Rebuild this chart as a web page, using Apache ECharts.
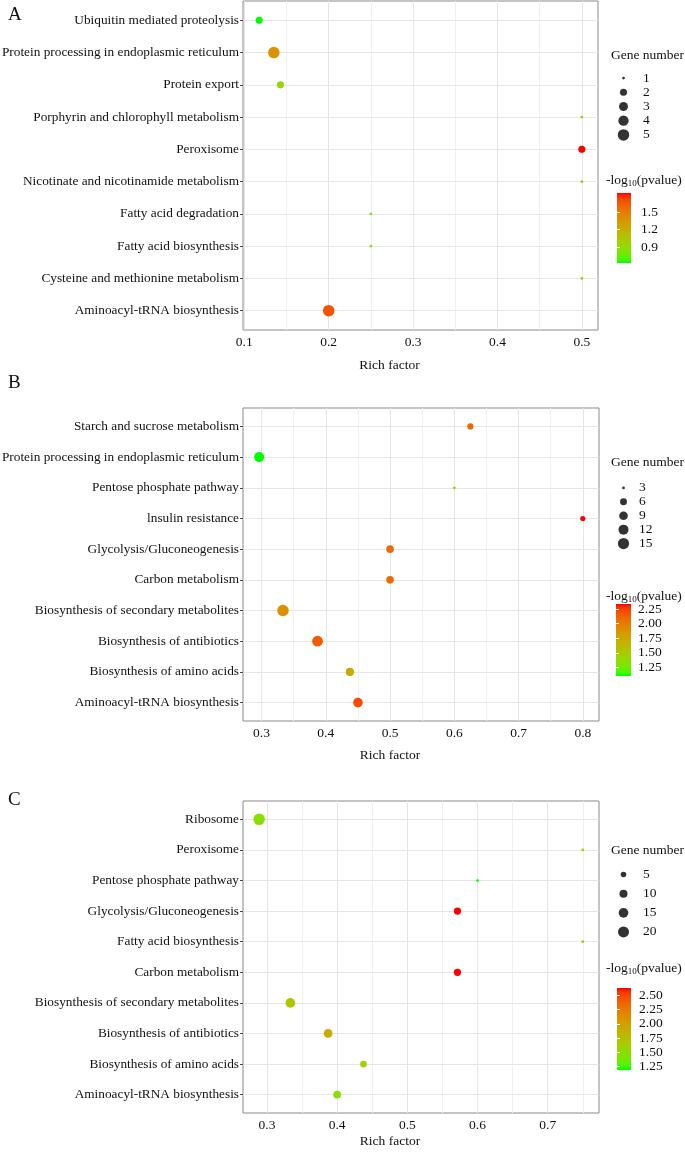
<!DOCTYPE html>
<html><head><meta charset="utf-8">
<script src="https://cdn.jsdelivr.net/npm/echarts@6/dist/echarts.min.js"></script>
<style>html,body{margin:0;padding:0;background:#fff}#c{width:685px;height:1153px}</style>
</head><body><div id="c"></div>
<script>
// ---------- DATA ----------
const catsA = ['Ubiquitin mediated proteolysis','Protein processing in endoplasmic reticulum','Protein export','Porphyrin and chlorophyll metabolism','Peroxisome','Nicotinate and nicotinamide metabolism','Fatty acid degradation','Fatty acid biosynthesis','Cysteine and methionine metabolism','Aminoacyl-tRNA biosynthesis'];
const richA = [0.1176, 0.135, 0.1429, 0.5, 0.5, 0.5, 0.25, 0.25, 0.5, 0.2];
const geneA = [2, 5, 2, 1, 2, 1, 1, 1, 1, 5];
const pvalA = [0.626, 1.38, 0.93, 1.01, 1.826, 1.01, 0.87, 0.87, 1.01, 1.68];
const xTicksA = [0.1, 0.2, 0.3, 0.4, 0.5];
const sizeLegA = [1, 2, 3, 4, 5];
const cbarTicksA = [0.9, 1.2, 1.5];

const catsB = ['Starch and sucrose metabolism','Protein processing in endoplasmic reticulum','Pentose phosphate pathway','lnsulin resistance','Glycolysis/Gluconeogenesis','Carbon metabolism','Biosynthesis of secondary metabolites','Biosynthesis of antibiotics','Biosynthesis of amino acids','Aminoacyl-tRNA biosynthesis'];
const richB = [0.625, 0.2963, 0.6, 0.8, 0.5, 0.5, 0.3333, 0.3871, 0.4375, 0.45];
const geneB = [5, 12, 3, 4, 7, 7, 16, 14, 8, 11];
const pvalB = [2.09, 1.10, 1.47, 2.34, 2.09, 2.09, 1.88, 2.15, 1.72, 2.22];
const xTicksB = [0.3, 0.4, 0.5, 0.6, 0.7, 0.8];
const sizeLegB = [3, 6, 9, 12, 15];
const cbarTicksB = [1.25, 1.5, 1.75, 2.0, 2.25];

const catsC = ['Ribosome','Peroxisome','Pentose phosphate pathway','Glycolysis/Gluconeogenesis','Fatty acid biosynthesis','Carbon metabolism','Biosynthesis of secondary metabolites','Biosynthesis of antibiotics','Biosynthesis of amino acids','Aminoacyl-tRNA biosynthesis'];
const richC = [0.2889, 0.75, 0.6, 0.5714, 0.75, 0.5714, 0.3333, 0.3871, 0.4375, 0.4];
const geneC = [22, 3, 3, 8, 3, 8, 15, 12, 7, 9];
const pvalC = [1.48, 1.62, 1.19, 2.63, 1.62, 2.63, 1.69, 1.91, 1.58, 1.48];
const xTicksC = [0.3, 0.4, 0.5, 0.6, 0.7];
const sizeLegC = [5, 10, 15, 20];
const cbarTicksC = [1.25, 1.5, 1.75, 2.0, 2.25, 2.5];

// ---------- COLOUR (Lab interpolation green -> red) ----------
function toLin(c){c/=255;return c<=0.04045?c/12.92:Math.pow((c+0.055)/1.055,2.4);}
function fromLin(c){c=c<=0.0031308?12.92*c:1.055*Math.pow(Math.max(c,0),1/2.4)-0.055;return Math.max(0,Math.min(255,Math.round(c*255)));}
function rgb2lab(rgb){
  const r=toLin(rgb[0]),g=toLin(rgb[1]),b=toLin(rgb[2]);
  const X=(0.4124564*r+0.3575761*g+0.1804375*b)/0.95047,Y=0.2126729*r+0.7151522*g+0.0721750*b,Z=(0.0193339*r+0.1191920*g+0.9503041*b)/1.08883;
  const f=t=>t>0.008856?Math.cbrt(t):(7.787*t+16/116);
  const fx=f(X),fy=f(Y),fz=f(Z);
  return [116*fy-16,500*(fx-fy),200*(fy-fz)];
}
function lab2rgb(lab){
  const fy=(lab[0]+16)/116,fx=fy+lab[1]/500,fz=fy-lab[2]/200;
  const fi=t=>t*t*t>0.008856?t*t*t:(t-16/116)/7.787;
  const X=fi(fx)*0.95047,Y=fi(fy),Z=fi(fz)*1.08883;
  const r=3.2404542*X-1.5371385*Y-0.4985314*Z,g=-0.9692660*X+1.8760108*Y+0.0415560*Z,b=0.0556434*X-0.2040259*Y+1.0572252*Z;
  return 'rgb('+fromLin(r)+','+fromLin(g)+','+fromLin(b)+')';
}
const LOW=rgb2lab([0,255,0]),HIGH=rgb2lab([255,0,0]);
function gradColor(t){t=Math.max(0,Math.min(1,t));return lab2rgb([0,1,2].map(i=>LOW[i]+(HIGH[i]-LOW[i])*t));}

// ---------- BUILD ----------
const FONT='"Liberation Serif", "Times New Roman", serif';
const mctx=document.createElement('canvas').getContext('2d');
function textW(t,px){mctx.font=px+'px "Liberation Serif"';return mctx.measureText(t).width;}
const option={animation:false,backgroundColor:'#fff',grid:[],xAxis:[],yAxis:[],series:[],graphic:[]};

function addPanel(p){
  const n=p.cats.length;
  const xmin=Math.min(...p.rich),xmax=Math.max(...p.rich),pad=0.05*(xmax-xmin);
  const gmin=Math.min(...p.gene),gmax=Math.max(...p.gene);
  const cmin=Math.min(...p.pval),cmax=Math.max(...p.pval);
  const sizeFn=v=>{const f=Math.max(0,(v-gmin)/(gmax-gmin));return 1.75*(1+5*Math.sqrt(f))+1.0;};

  // main grid
  const gi=option.grid.length;
  option.grid.push({left:p.box[0],top:p.box[1],width:p.box[2],height:p.box[3],outerBoundsMode:'none',containLabel:false,
    show:true,borderColor:'#8a8a8a',borderWidth:1,backgroundColor:'#fff'});
  const xi=option.xAxis.length,yi=option.yAxis.length;
  option.xAxis.push({gridIndex:gi,type:'value',min:xmin-pad,max:xmax+pad,
    axisLine:{show:false},splitLine:{show:false},
    axisTick:{show:true,customValues:p.ticks,length:3,lineStyle:{color:'#444'}},
    axisLabel:{customValues:p.ticks,formatter:v=>String(+v.toFixed(2)),color:'#111',fontFamily:FONT,fontSize:13.5,margin:5},
    name:'Rich factor',nameLocation:'middle',nameGap:p.nameGap,nameTextStyle:{color:'#111',fontFamily:FONT,fontSize:13.5,padding:p.namePad}});
  const idx=p.cats.map((_,i)=>i);
  option.yAxis.push({gridIndex:gi,type:'value',min:-0.6,max:n-1+0.6,inverse:true,
    axisLine:{show:false},splitLine:{show:false},
    axisTick:{show:true,customValues:idx,length:3,lineStyle:{color:'#444'}},
    axisLabel:{customValues:idx,formatter:v=>p.cats[Math.round(v)]||'',color:'#111',fontFamily:FONT,fontSize:13.3,margin:4}});
  // grid lines
  const step=p.ticks[1]-p.ticks[0];
  const minors=[];
  for(let t=p.ticks[0]-step/2;t<=xmax+pad;t+=step){if(t>=xmin-pad)minors.push(+t.toFixed(4));}
  const ml=[];
  minors.forEach(v=>ml.push({xAxis:v,lineStyle:{color:'#f0f0f0',width:1,type:'solid'}}));
  p.ticks.forEach(v=>ml.push({xAxis:v,lineStyle:{color:'#e6e6e6',width:1,type:'solid'}}));
  idx.forEach(v=>ml.push({yAxis:v,lineStyle:{color:'#e6e6e6',width:1,type:'solid'}}));
  option.series.push({type:'scatter',xAxisIndex:xi,yAxisIndex:yi,data:[],z:1,silent:true,
    markLine:{silent:true,symbol:['none','none'],label:{show:false},emphasis:{disabled:true},data:ml,animation:false}});
  // points
  option.series.push({type:'scatter',xAxisIndex:xi,yAxisIndex:yi,z:5,
    data:p.rich.map((r,i)=>({value:[r,i,p.gene[i],p.pval[i]],symbolSize:sizeFn(p.gene[i]),itemStyle:{color:gradColor((p.pval[i]-cmin)/(cmax-cmin)),opacity:1}}))});

  // size legend
  const lg=option.grid.length;
  option.grid.push({left:p.leg[0],top:p.leg[1],width:p.leg[2],height:p.leg[3],outerBoundsMode:'none',containLabel:false});
  const lxi=option.xAxis.length,lyi=option.yAxis.length;
  option.xAxis.push({gridIndex:lg,type:'value',min:-1,max:1,show:false});
  option.yAxis.push({gridIndex:lg,type:'category',inverse:true,position:'right',data:p.sizeLeg.map(String),
    axisLine:{show:false},axisTick:{show:false},splitLine:{show:false},
    axisLabel:{interval:0,color:'#111',fontFamily:FONT,fontSize:13.5,margin:p.legMargin,align:'left'}});
  option.series.push({type:'scatter',xAxisIndex:lxi,yAxisIndex:lyi,silent:true,
    data:p.sizeLeg.map((v,i)=>({value:[0,i],symbolSize:sizeFn(v),itemStyle:{color:'#000'}}))});

  // colour bar
  const cg=option.grid.length;
  const stops=[];for(let k=0;k<=20;k++){stops.push({offset:k/20,color:gradColor(1-k/20)});}
  option.grid.push({left:p.cbar[0],top:p.cbar[1],width:p.cbar[2],height:p.cbar[3],outerBoundsMode:'none',containLabel:false,
    show:true,borderWidth:0,backgroundColor:{type:'linear',x:0,y:0,x2:0,y2:1,colorStops:stops}});
  const cxi=option.xAxis.length;
  option.xAxis.push({gridIndex:cg,type:'value',min:0,max:1,show:false});
  const cyi=option.yAxis.length;
  option.yAxis.push({gridIndex:cg,type:'value',min:cmin,max:cmax,position:'right',
    axisLine:{show:false},splitLine:{show:false},
    axisTick:{show:true,inside:true,customValues:p.cbarTicks,length:3,lineStyle:{color:'#fff',width:1}},
    axisLabel:{customValues:p.cbarTicks,formatter:v=>v.toFixed(p.cbarDigits),color:'#111',fontFamily:FONT,fontSize:13.5,margin:p.cbarMargin}});
  option.yAxis.push({gridIndex:cg,type:'value',min:cmin,max:cmax,position:'left',
    axisLine:{show:false},splitLine:{show:false},
    axisTick:{show:true,inside:true,customValues:p.cbarTicks,length:3,lineStyle:{color:'#fff',width:1}},
    axisLabel:{show:false,customValues:p.cbarTicks}});
  option.series.push({type:'scatter',xAxisIndex:cxi,yAxisIndex:cyi,data:[],silent:true});

  // texts
  option.graphic.push({type:'text',x:8,y:p.letterY,style:{text:p.letter,font:'19px '+FONT,fill:'#111',verticalAlign:'middle'}});
  option.graphic.push({type:'text',x:611,y:p.geneY,style:{text:'Gene number',font:'13.5px '+FONT,fill:'#111',verticalAlign:'middle'}});
  const x0=606, w1=textW('-log',13.5), w2=textW('10',9);
  option.graphic.push({type:'text',x:x0,y:p.logY,style:{text:'-log',font:'13.5px '+FONT,fill:'#111',verticalAlign:'middle'}});
  option.graphic.push({type:'text',x:x0+w1,y:p.logY+4,style:{text:'10',font:'9px '+FONT,fill:'#111',verticalAlign:'middle'}});
  option.graphic.push({type:'text',x:x0+w1+w2,y:p.logY,style:{text:'(pvalue)',font:'13.5px '+FONT,fill:'#111',verticalAlign:'middle'}});
}

addPanel({cats:catsA,rich:richA,gene:geneA,pval:pvalA,ticks:xTicksA,box:[243,1,355,329],nameGap:28,namePad:[0,62,0,0],
  leg:[616,71,15,71],legMargin:12,sizeLeg:sizeLegA,cbar:[617,193,14,70],cbarTicks:cbarTicksA,cbarDigits:1,cbarMargin:10,
  letter:'A',letterY:15,geneY:55,logY:180});
addPanel({cats:catsB,rich:richB,gene:geneB,pval:pvalB,ticks:xTicksB,box:[243,408,356,313],nameGap:27,namePad:[0,62,0,0],
  leg:[616,481,15,69.5],legMargin:8,sizeLeg:sizeLegB,cbar:[616,604,15,72],cbarTicks:cbarTicksB,cbarDigits:2,cbarMargin:7,
  letter:'B',letterY:383,geneY:462,logY:596});
addPanel({cats:catsC,rich:richC,gene:geneC,pval:pvalC,ticks:xTicksC,box:[243,801,356,312],nameGap:21,namePad:[0,62,0,0],
  leg:[616,865,15,76.5],legMargin:12,sizeLeg:sizeLegC,cbar:[617,988,14,82],cbarTicks:cbarTicksC,cbarDigits:2,cbarMargin:8,
  letter:'C',letterY:800,geneY:850,logY:968});

const chart=echarts.init(document.getElementById('c'),null,{renderer:'canvas'});
chart.setOption(option);
</script></body></html>
